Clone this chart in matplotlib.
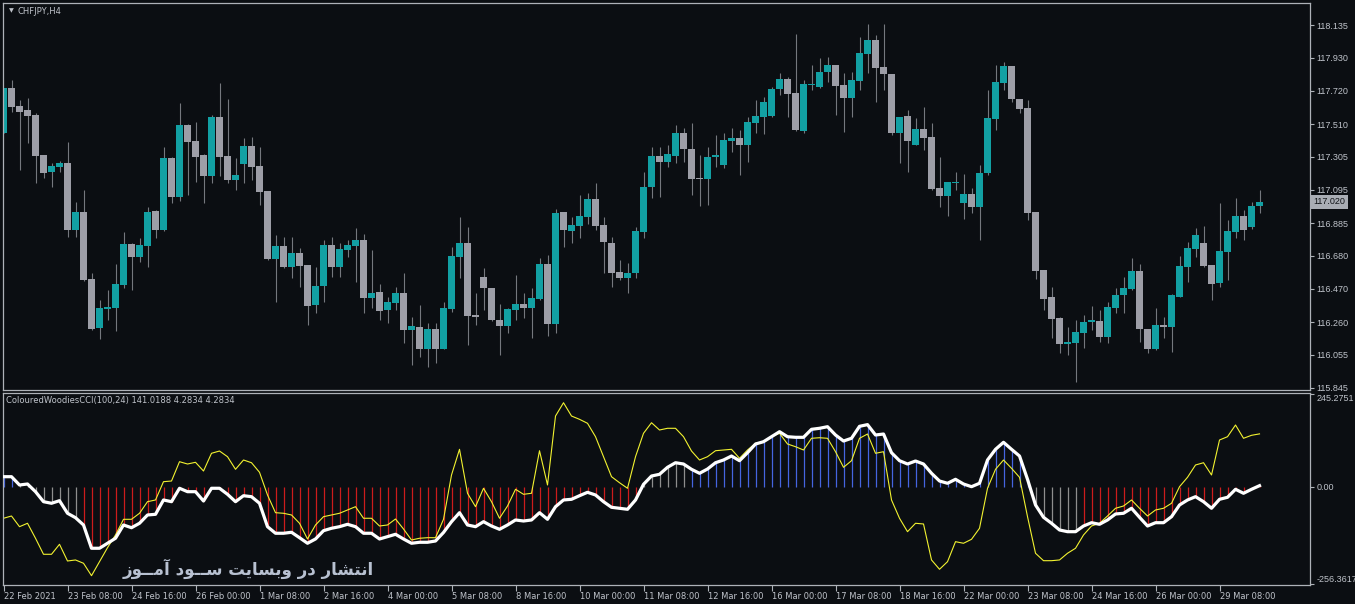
import numpy as np
import matplotlib
matplotlib.use("Agg")
import matplotlib.pyplot as plt
from matplotlib.transforms import blended_transform_factory

# CHFJPY H4 candles, 22 Feb 2021 00:00 .. 30 Mar 2021
opens = [117.456, 117.736, 117.624, 117.599, 117.567, 117.315, 117.207, 117.241, 117.263, 116.842,
         116.953, 116.531, 116.225, 116.345, 116.351, 116.497, 116.754, 116.674, 116.743, 116.962,
         116.842, 117.296, 117.052, 117.506, 117.404, 117.315, 117.182, 117.555, 117.309, 117.157,
         117.259, 117.372, 117.246, 117.088, 116.659, 116.743, 116.611, 116.697, 116.621, 116.369,
         116.489, 116.748, 116.605, 116.716, 116.743, 116.779, 116.415, 116.450, 116.337, 116.383,
         116.446, 116.211, 116.232, 116.093, 116.217, 116.093, 116.341, 116.674, 116.758, 116.306,
         116.545, 116.474, 116.274, 116.237, 116.337, 116.375, 116.350, 116.407, 116.626, 116.249,
         116.953, 116.836, 116.869, 116.926, 117.037, 116.874, 116.758, 116.575, 116.539, 116.569,
         116.829, 117.115, 117.309, 117.273, 117.309, 117.452, 117.353, 117.170, 117.163, 117.301,
         117.252, 117.406, 117.423, 117.379, 117.518, 117.557, 117.561, 117.731, 117.794, 117.703,
         117.468, 117.758, 117.746, 117.840, 117.883, 117.757, 117.677, 117.781, 117.954, 118.041,
         117.870, 117.826, 117.452, 117.559, 117.381, 117.479, 117.429, 117.105, 117.058, 117.139,
         117.014, 117.069, 116.989, 117.201, 117.544, 117.771, 117.877, 117.670, 117.611, 116.955,
         116.590, 116.417, 116.286, 116.122, 116.131, 116.194, 116.261, 116.268, 116.169, 116.351,
         116.432, 116.470, 116.580, 116.217, 116.089, 116.242, 116.232, 116.421, 116.611, 116.722,
         116.760, 116.621, 116.510, 116.705, 116.831, 116.930, 116.863, 116.995]
highs = [117.738, 117.788, 117.662, 117.673, 117.582, 117.315, 117.266, 117.279, 117.399, 117.020,
         117.094, 116.569, 116.400, 116.463, 116.628, 116.831, 116.758, 116.790, 116.989, 116.968,
         117.368, 117.303, 117.645, 117.510, 117.525, 117.322, 117.567, 117.771, 117.666, 117.295,
         117.421, 117.427, 117.368, 117.088, 116.810, 116.800, 116.800, 116.727, 116.621, 116.610,
         116.779, 116.796, 116.758, 116.779, 116.852, 116.817, 116.716, 116.501, 116.421, 116.484,
         116.569, 116.295, 116.368, 116.253, 116.253, 116.389, 116.737, 116.922, 116.863, 116.442,
         116.601, 116.474, 116.375, 116.348, 116.558, 116.442, 116.474, 116.664, 116.685, 116.972,
         116.957, 116.926, 117.063, 117.073, 117.140, 116.926, 116.800, 116.653, 116.632, 116.863,
         117.210, 117.368, 117.368, 117.379, 117.504, 117.483, 117.519, 117.315, 117.368, 117.442,
         117.452, 117.483, 117.473, 117.557, 117.662, 117.679, 117.747, 117.830, 117.809, 118.079,
         117.788, 117.883, 117.925, 117.931, 117.883, 117.830, 117.841, 118.061, 118.142, 118.072,
         118.142, 117.826, 117.555, 117.599, 117.547, 117.620, 117.515, 117.305, 117.147, 117.210,
         117.193, 117.105, 117.252, 117.725, 117.883, 117.904, 117.877, 117.670, 117.662, 116.955,
         116.590, 116.484, 116.295, 116.232, 116.274, 116.306, 116.362, 116.337, 116.389, 116.474,
         116.547, 116.664, 116.625, 116.217, 116.348, 116.295, 116.436, 116.678, 116.769, 116.852,
         116.868, 116.621, 117.010, 116.905, 117.042, 116.968, 117.020, 117.094]
lows = [117.454, 117.588, 117.221, 117.389, 117.140, 117.168, 117.111, 117.210, 116.796, 116.799,
        116.520, 116.211, 116.152, 116.274, 116.206, 116.474, 116.463, 116.642, 116.610, 116.790,
        116.836, 117.014, 117.027, 117.063, 117.146, 117.010, 117.136, 117.182, 117.140, 117.094,
        117.136, 117.157, 116.999, 116.653, 116.389, 116.601, 116.536, 116.485, 116.242, 116.316,
        116.389, 116.547, 116.547, 116.674, 116.515, 116.316, 116.348, 116.274, 116.253, 116.337,
        116.127, 115.990, 116.043, 115.980, 116.001, 116.091, 116.326, 116.539, 116.116, 116.242,
        116.337, 116.268, 116.053, 116.190, 116.274, 116.285, 116.159, 116.400, 116.173, 116.190,
        116.737, 116.758, 116.790, 116.882, 116.842, 116.569, 116.485, 116.527, 116.442, 116.536,
        116.790, 117.042, 117.052, 117.241, 117.263, 117.273, 117.063, 116.993, 116.999, 117.241,
        117.231, 117.336, 117.189, 117.273, 117.452, 117.447, 117.557, 117.694, 117.557, 117.467,
        117.452, 117.725, 117.736, 117.778, 117.567, 117.462, 117.557, 117.725, 117.830, 117.651,
        117.725, 117.441, 117.263, 117.210, 117.379, 117.347, 117.094, 116.989, 116.927, 117.094,
        116.910, 116.947, 116.779, 117.189, 117.473, 117.725, 117.651, 117.578, 116.905, 116.531,
        116.337, 116.159, 116.064, 116.053, 115.885, 116.095, 116.211, 116.137, 116.127, 116.316,
        116.316, 116.463, 116.137, 116.064, 116.085, 116.159, 116.074, 116.421, 116.515, 116.674,
        116.611, 116.400, 116.481, 116.527, 116.790, 116.779, 116.848, 116.947]
closes = [117.736, 117.620, 117.588, 117.563, 117.309, 117.203, 117.246, 117.263, 116.842, 116.953,
          116.527, 116.215, 116.348, 116.358, 116.501, 116.754, 116.674, 116.748, 116.953, 116.842,
          117.296, 117.052, 117.506, 117.399, 117.305, 117.182, 117.555, 117.305, 117.157, 117.189,
          117.372, 117.241, 117.083, 116.659, 116.743, 116.605, 116.697, 116.615, 116.362, 116.489,
          116.748, 116.611, 116.722, 116.748, 116.779, 116.415, 116.446, 116.332, 116.387, 116.446,
          116.211, 116.236, 116.093, 116.217, 116.093, 116.350, 116.678, 116.758, 116.301, 116.295,
          116.476, 116.274, 116.237, 116.343, 116.375, 116.350, 116.413, 116.626, 116.249, 116.947,
          116.842, 116.872, 116.930, 117.037, 116.869, 116.765, 116.573, 116.539, 116.569, 116.836,
          117.111, 117.309, 117.273, 117.322, 117.452, 117.351, 117.166, 117.163, 117.303, 117.315,
          117.410, 117.423, 117.379, 117.523, 117.561, 117.651, 117.731, 117.794, 117.699, 117.473,
          117.763, 117.765, 117.840, 117.883, 117.752, 117.677, 117.788, 117.959, 118.041, 117.866,
          117.824, 117.452, 117.555, 117.405, 117.479, 117.420, 117.101, 117.058, 117.145, 117.145,
          117.071, 116.989, 117.201, 117.548, 117.776, 117.877, 117.670, 117.607, 116.951, 116.585,
          116.404, 116.280, 116.122, 116.135, 116.198, 116.264, 116.274, 116.169, 116.356, 116.430,
          116.476, 116.580, 116.215, 116.093, 116.240, 116.232, 116.430, 116.615, 116.727, 116.810,
          116.617, 116.503, 116.709, 116.836, 116.930, 116.842, 116.993, 117.020]

# ColouredWoodiesCCI(100,24): main CCI (white + histogram) and turbo CCI (yellow)
cci = [28.0, 28.0, 6.1, 8.7, -11.6, -38.0, -42.2, -35.4, -68.6, -80.3,
       -99.5, -161.0, -161.0, -147.8, -134.6, -99.5, -106.7, -95.0, -73.1, -71.3,
       -33.5, -38.0, -2.6, -11.6, -11.6, -36.2, -2.6, -2.6, -18.5, -38.0,
       -22.2, -24.8, -42.2, -104.0, -121.4, -121.4, -118.8, -133.1, -147.8, -136.5,
       -114.6, -108.2, -104.0, -97.7, -104.0, -121.4, -121.4, -136.5, -130.4, -124.1,
       -136.5, -147.8, -145.2, -145.2, -141.8, -119.3, -90.8, -67.1, -99.5, -104.0,
       -90.8, -102.2, -110.9, -99.5, -86.3, -89.0, -86.3, -67.1, -84.5, -51.2,
       -33.5, -31.7, -22.2, -13.2, -20.3, -38.0, -52.8, -55.4, -58.1, -33.5,
       7.9, 29.8, 34.3, 52.8, 64.9, 61.5, 47.5, 37.0, 48.3, 64.9,
       72.1, 82.6, 70.2, 91.3, 114.3, 120.4, 133.6, 146.8, 133.6, 132.0,
       132.0, 153.1, 155.8, 160.0, 138.1, 122.2, 129.4, 161.0, 165.5, 138.1,
       140.7, 91.3, 70.2, 61.5, 69.4, 61.5, 37.0, 16.6, 10.6, 21.1,
       8.7, 1.6, 10.6, 72.1, 100.3, 118.8, 100.3, 82.6, 21.1, -46.7,
       -79.2, -95.0, -112.7, -117.2, -117.2, -102.2, -93.5, -97.7, -86.3, -70.5,
       -68.6, -55.4, -79.2, -102.2, -93.5, -93.5, -77.6, -46.7, -33.5, -24.8,
       -38.0, -55.4, -31.7, -26.4, -5.3, -15.8, -5.3, 4.2834]
turbo = [-81.8, -75.8, -104.0, -95.0, -134.6, -176.9, -176.9, -150.5, -194.6, -191.9,
         -200.6, -233.4, -196.4, -159.5, -125.9, -84.5, -84.5, -68.6, -38.0, -33.5,
         14.8, 16.6, 67.6, 61.5, 66.0, 43.0, 89.8, 95.8, 80.8, 47.5,
         72.1, 64.9, 39.6, -20.3, -67.1, -68.6, -73.1, -95.0, -136.5, -99.5,
         -77.6, -73.1, -68.6, -59.9, -51.2, -81.8, -81.8, -102.2, -99.5, -83.7,
         -110.1, -139.1, -134.6, -133.1, -133.1, -84.5, 32.5, 100.3, -15.8, -51.2,
         -2.6, -38.0, -81.8, -49.4, -5.3, -18.5, -15.8, 96.6, 6.1, 188.2,
         223.3, 188.2, 179.5, 169.0, 133.6, 80.8, 28.0, 12.1, -2.6, 80.8,
         142.6, 170.5, 151.3, 155.8, 155.8, 133.6, 95.8, 72.1, 80.8, 96.6,
         98.5, 100.3, 76.6, 98.5, 116.2, 120.4, 133.6, 142.6, 114.3, 107.2,
         98.5, 129.4, 130.9, 129.4, 94.0, 52.8, 70.2, 129.4, 140.7, 89.8,
         94.0, -33.5, -81.8, -117.2, -95.0, -96.9, -191.9, -216.5, -196.4, -143.6,
         -147.8, -137.3, -108.2, -2.6, 47.5, 72.1, 50.2, 26.4, -77.6, -174.2,
         -193.8, -193.8, -191.9, -174.2, -161.0, -125.9, -102.2, -95.0, -75.8, -55.4,
         -49.4, -33.5, -55.4, -75.8, -59.9, -55.4, -42.2, 1.6, 26.4, 58.9,
         64.9, 32.5, 124.9, 133.6, 164.5, 129.4, 137.3, 141.0188]
# histogram trend state per bar: b = up, r = down, g = neutral
hist_state = ("bb" "gggggggg"
              "rrrrrrrrrrrrrrrrrrrrrrrrrrrrrrrrrrrrrrrrrrrrrrrrrrrrrrrrrrrrrrrrrrrrrr"
              "gggggg"
              "bbbbbbbbbbbbbbbbbbbbbbbbbbbbbbbbbbbbbbbbbbb"
              "gggggg"
              "rrrrrrrrrrrrrrrrrrrrrrr")

price_ticks = [118.135, 117.930, 117.720, 117.510, 117.305, 117.095,
               116.885, 116.680, 116.470, 116.260, 116.055, 115.845]
date_labels = ["22 Feb 2021", "23 Feb 08:00", "24 Feb 16:00", "26 Feb 00:00", "1 Mar 08:00",
               "2 Mar 16:00", "4 Mar 00:00", "5 Mar 08:00", "8 Mar 16:00", "10 Mar 00:00",
               "11 Mar 08:00", "12 Mar 16:00", "16 Mar 00:00", "17 Mar 08:00", "18 Mar 16:00",
               "22 Mar 00:00", "23 Mar 08:00", "24 Mar 16:00", "26 Mar 00:00", "29 Mar 08:00"]
ind_ticks = [245.2751, 0.0, -256.3617]
ind_tick_labels = ["245.2751", "0.00", "-256.3617"]
symbol = "CHFJPY,H4"
ind_name = "ColouredWoodiesCCI(100,24)"
watermark = "انتشار در وبسایت ســود آمــوز"

BG = '#0b0e12'
FRAME = '#aeb2b8'
TXT = '#bfc3ca'
TEAL = '#12a0a3'
GREY = '#9d9ea7'
WICK = '#75787e'
HIST = {'b': '#4565e0', 'r': '#cc1c1c', 'g': '#8e8e8e'}
AXFONT = 'Liberation Sans'

# Arabic presentation forms (isolated, final, initial, medial) for the watermark letters
FORMS = {
    'ا': ('\uFE8D', '\uFE8E', None, None),
    'آ': ('\uFE81', '\uFE82', None, None),
    'ن': ('\uFEE5', '\uFEE6', '\uFEE7', '\uFEE8'),
    'ت': ('\uFE95', '\uFE96', '\uFE97', '\uFE98'),
    'ش': ('\uFEB5', '\uFEB6', '\uFEB7', '\uFEB8'),
    'ر': ('\uFEAD', '\uFEAE', None, None),
    'د': ('\uFEA9', '\uFEAA', None, None),
    'و': ('\uFEED', '\uFEEE', None, None),
    'ز': ('\uFEAF', '\uFEB0', None, None),
    'ب': ('\uFE8F', '\uFE90', '\uFE91', '\uFE92'),
    'س': ('\uFEB1', '\uFEB2', '\uFEB3', '\uFEB4'),
    'م': ('\uFEE1', '\uFEE2', '\uFEE3', '\uFEE4'),
    'ی': ('\uFBFC', '\uFBFD', '\uFEF3', '\uFEF4'),
    'ـ': ('ـ', 'ـ', 'ـ', 'ـ'),
}


def shape_rtl(text):
    out = []
    for i, ch in enumerate(text):
        if ch not in FORMS:
            out.append(ch)
            continue
        prev = text[i - 1] if i > 0 else ' '
        nxt = text[i + 1] if i + 1 < len(text) else ' '
        jp = prev in FORMS and FORMS[prev][2] is not None
        jn = nxt in FORMS and FORMS[ch][2] is not None
        iso, fin, ini, med = FORMS[ch]
        out.append(med if jp and jn else fin if jp else ini if jn else iso)
    return ''.join(reversed(out))


o = np.array(opens)
h = np.array(highs)
l = np.array(lows)
c = np.array(closes)
x = np.arange(len(c))
up = c >= o

W, H = 1355.0, 604.0
fig = plt.figure(figsize=(13.55, 6.04), dpi=100, facecolor=BG)
ax1 = fig.add_axes([3 / W, 1 - 390 / H, 1307 / W, 387 / H], facecolor=BG)
ax2 = fig.add_axes([3 / W, 1 - 585 / H, 1307 / W, 192 / H], facecolor=BG)

for ax in (ax1, ax2):
    ax.set_xlim(-0.0625, 163.31)
    for s in ax.spines.values():
        s.set_color(FRAME)
        s.set_linewidth(0.9)
    ax.yaxis.tick_right()
    ax.tick_params(axis='y', colors=FRAME, labelcolor=TXT, labelsize=6.5, length=3, width=0.8, pad=1.5)

# candles
ax1.vlines(x, l, h, color=WICK, lw=0.8, zorder=1)
body_lo = np.minimum(o, c)
body_h = np.maximum(np.abs(c - o), 0.005)
ax1.bar(x[up], body_h[up], bottom=body_lo[up], width=0.8, color=TEAL, lw=0, zorder=2)
ax1.bar(x[~up], body_h[~up], bottom=body_lo[~up], width=0.8, color=GREY, lw=0, zorder=2)
ax1.set_ylim(115.832, 118.274)
ax1.set_yticks(price_ticks)
ax1.set_yticklabels([f"{p:.3f}" for p in price_ticks], family=AXFONT)
ax1.set_xticks([])
tr = blended_transform_factory(ax1.transAxes, ax1.transData)
ax1.text(1.0023, c[-1], f"{c[-1]:.3f}", transform=tr, ha='left', va='center', fontsize=6.5,
         family=AXFONT, color='#111418',
         bbox=dict(boxstyle='square,pad=0.3', fc='#a9adb4', ec='none'))

# indicator
ax2.vlines(x, 0, cci, colors=[HIST[s] for s in hist_state], lw=0.9, zorder=1)
ax2.plot(x, turbo, color='#f2f230', lw=0.8, zorder=2)
ax2.plot(x, cci, color='white', lw=2.3, solid_joinstyle='round', zorder=3)
ax2.set_ylim(-258, 249)
ax2.set_yticks(ind_ticks)
ax2.set_yticklabels(ind_tick_labels, family=AXFONT)
for lab, va in zip(ax2.get_yticklabels(), ['top', 'center', 'bottom']):
    lab.set_va(va)
ax2.set_xticks(np.arange(len(date_labels)) * 8)
ax2.set_xticklabels(date_labels, ha='left')
ax2.tick_params(axis='x', colors=FRAME, labelcolor=TXT, labelsize=6, length=4, width=0.8, pad=1)

fig.text(9 / W, 1 - 11 / H, '▼', fontsize=4.5, color=TXT, va='center')
fig.text(18 / W, 1 - 11 / H, symbol, fontsize=6, color=TXT, va='center')
fig.text(6 / W, 1 - 401 / H,
         f"{ind_name} {turbo[-1]:.4f} {cci[-1]:.4f} {cci[-1]:.4f}",
         fontsize=6, color=TXT, va='center')
fig.text(248 / W, 1 - 569 / H, shape_rtl(watermark), fontsize=12, fontweight='bold',
         color='#b8c1d1', ha='center', va='center', family='DejaVu Sans')

fig.savefig("out.png", dpi=100, facecolor=BG)
